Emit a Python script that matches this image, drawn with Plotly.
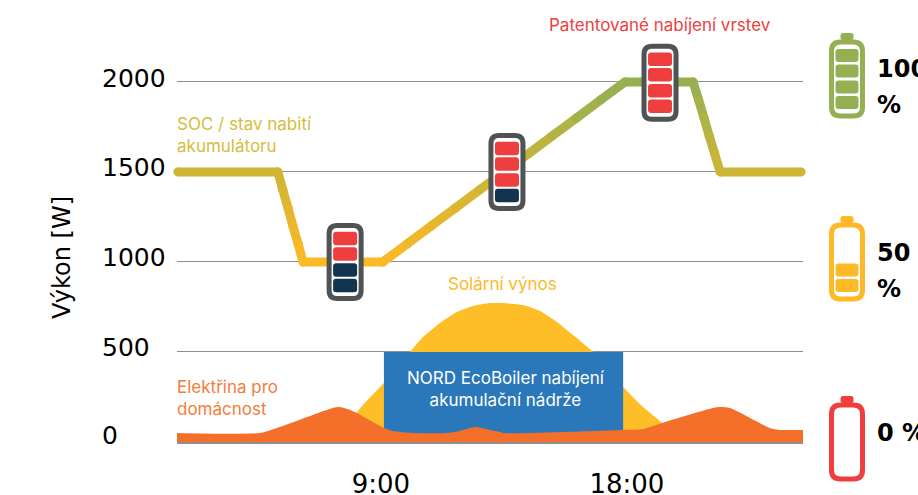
import plotly.graph_objects as go

# ---- data ----
soc_hour = [1.57, 5.23, 5.41, 5.60, 5.78, 5.97, 6.15, 9.07, 9.96, 10.84, 11.73, 12.61, 13.50, 14.39,
            15.27, 16.16, 17.04, 17.93, 20.42, 20.62, 20.82, 21.01, 21.21, 21.41, 24.37]
soc_watt = [1500, 1500, 1400, 1300, 1200, 1100, 1000, 1000, 1100, 1200, 1300, 1400, 1500, 1600,
            1700, 1800, 1900, 2000, 2000, 1900, 1800, 1700, 1600, 1500, 1500]
solar_hour = [8.05, 8.12, 9.11, 10.06, 10.54, 11.16, 11.78, 12.37, 12.99, 13.46, 14.20, 14.82, 15.44,
              16.03, 16.76, 17.86, 18.59, 19.28, 19.94]
solar_watt = [0, 161, 328, 500, 583, 661, 722, 756, 772, 772, 761, 728, 667, 594, 500, 306, 194, 106, 0]
home_hour = [1.54, 4.57, 5.20, 7.24, 7.50, 7.87, 8.12, 9.11, 9.44, 10.17, 11.42, 11.89, 12.44, 12.99,
             13.36, 13.47, 17.86, 18.59, 19.28, 21.15, 21.41, 21.77, 23.23, 23.60, 24.44]
home_watt = [50, 50, 78, 189, 194, 178, 161, 78, 61, 50, 50, 61, 83, 67, 56, 50, 67, 72, 106, 189, 194,
             189, 78, 67, 67]
boiler_hour = [9.11, 17.86]
boiler_watt = [500, 500]
y_ticks = [0, 500, 1000, 1500, 2000]
x_ticks = [9, 18]
x_labels = ["9:00", "18:00"]
# inline batteries: hour, watt, charged cells out of 4
inline_hour = [7.69, 13.61, 19.21]
inline_watt = [1000, 1500, 1995]
inline_full = [2, 3, 4]

# ---- styles ----
W, H = 918, 495
L, R, T, B = 177, 803, 0, 442
XR = [1.54, 24.44]
YR = [0, 2455]
INTER = "Inter, sans-serif"
DEJA = "DejaVu Sans, sans-serif"
RED, NAVY, DARK = "#EF3E3E", "#12344F", "#4F5353"
GREEN, AMBER = "#95B053", "#FDB927"
GRID = "#8F8F8F"
TICK_SHIFT = [7, 4, 4, 4, 3]


def mix(w):
    stops = [(1000, (253, 185, 39)), (1500, (205, 182, 54)), (2000, (149, 176, 83))]
    w = max(1000, min(2000, w))
    a, b = (stops[0], stops[1]) if w <= 1500 else (stops[1], stops[2])
    t = (w - a[0]) / (b[0] - a[0])
    return "rgb(%d,%d,%d)" % tuple(a[1][i] + t * (b[1][i] - a[1][i]) for i in range(3))


def rr(x0, y0, x1, y1, r):
    return (f"M{x0+r},{y0} L{x1-r},{y0} Q{x1},{y0} {x1},{y0+r} L{x1},{y1-r} Q{x1},{y1} {x1-r},{y1} "
            f"L{x0+r},{y1} Q{x0},{y1} {x0},{y1-r} L{x0},{y0+r} Q{x0},{y0} {x0+r},{y0} Z")


def anchored(path, ax, ay, xref, yref, fill, line=None, lw=0):
    return dict(type="path", path=path, xref=xref, yref=yref, xsizemode="pixel", ysizemode="pixel",
                xanchor=ax, yanchor=ay, fillcolor=fill, line=dict(color=line or fill, width=lw), layer="above")


def px(x):
    return (x - L) / (R - L)


def py(y):
    return 1 - (y - T) / (B - T)


fig = go.Figure()
fig.add_trace(go.Scatter(x=solar_hour, y=solar_watt, mode="lines", line=dict(width=0, shape="spline", smoothing=0.5),
                         fill="tozeroy", fillcolor="#FEBE28", hoverinfo="skip"))
fig.add_trace(go.Scatter(x=boiler_hour, y=boiler_watt, mode="lines", line=dict(width=0), fill="tozeroy",
                         fillcolor="#2A78BA", hoverinfo="skip"))
fig.add_trace(go.Scatter(x=home_hour, y=home_watt, mode="lines", line=dict(width=0, shape="spline", smoothing=0.6),
                         fill="tozeroy", fillcolor="#F4702A", hoverinfo="skip"))
for i in range(len(soc_hour) - 1):
    c = mix((soc_watt[i] + soc_watt[i + 1]) / 2)
    fig.add_trace(go.Scatter(x=soc_hour[i:i + 2], y=soc_watt[i:i + 2], mode="lines+markers",
                             line=dict(color=c, width=9), marker=dict(color=c, size=9),
                             cliponaxis=False, hoverinfo="skip"))

shapes = []
# inline batteries, anchored to the data
for hx, wy, full in zip(inline_hour, inline_watt, inline_full):
    shapes.append(anchored(rr(-16, -36.5, 16, 36.5, 8), hx, wy, "x", "y", "white", DARK, 5))
    for k, cy in enumerate([23.5, 8, -8, -23.5]):
        col = RED if k < full else NAVY
        shapes.append(anchored(rr(-12, cy - 6.7, 12, cy + 6.7, 3), hx, wy, "x", "y", col))


# side batteries
def side(top, col, cells):
    bx, by = px(847), py(top + 46)
    shapes.append(anchored(rr(-6.5, 39, 6.5, 46, 2.5), bx, by, "paper", "paper", col))
    shapes.append(anchored(rr(-15.5, -37, 15.5, 37, 9), bx, by, "paper", "paper", "white", col, 5))
    for cy in cells:
        shapes.append(anchored(rr(-11.5, cy - 6.5, 11.5, cy + 6.5, 3), bx, by, "paper", "paper", col))


side(33, GREEN, [-23.5, -8, 8, 23.5])
side(216, AMBER, [-23.5, -8])
side(396, RED, [])

anns = []


def note(x, y, text, color, anchor="left", size=17):
    anns.append(dict(x=x, y=y, xref="paper", yref="paper", text=text, showarrow=False, xanchor=anchor,
                     yanchor="middle", align=anchor, font=dict(family=INTER, size=size, color=color)))


note(px(660), py(25), "Patentované nabíjení vrstev", RED, "center")
note(px(175), py(135), "SOC / stav nabití<br>akumulátoru", "#D6BC3E")
note(px(502), py(284), "Solární výnos", AMBER, "center")
note(px(175), py(398), "Elektřina pro<br>domácnost", "#F47D3B")
note(px(506), py(389), "NORD EcoBoiler nabíjení<br>akumulační nádrže", "white", "center")
for x, y, t in [(875, 69, "100"), (875, 105, "%"), (875, 253, "50"), (875, 289, "%"), (875, 433, "0 %")]:
    anns.append(dict(x=px(x), y=py(y), xref="paper", yref="paper", text=t, showarrow=False, xanchor="left",
                     yanchor="middle", font=dict(family=DEJA, size=24, color="black", weight="bold")))
# left-aligned y tick labels, as in the reference
for v, s in zip(y_ticks, TICK_SHIFT):
    anns.append(dict(x=px(100), xref="paper", y=v, yref="y", yshift=s, text=str(v), showarrow=False, xanchor="left",
                     yanchor="middle", font=dict(family=DEJA, size=25, color="black")))
anns.append(dict(x=px(62), y=py(258), xref="paper", yref="paper", text="Výkon [W]", textangle=-90, showarrow=False,
                 xanchor="center", yanchor="middle", font=dict(family=DEJA, size=24, color="black")))

fig.update_layout(
    width=W, height=H, margin=dict(l=L, r=W - R, t=T, b=H - B, pad=0), showlegend=False,
    paper_bgcolor="white", plot_bgcolor="white", shapes=shapes, annotations=anns,
    xaxis=dict(range=XR, tickmode="array", tickvals=x_ticks, ticktext=x_labels, showgrid=False, zeroline=False,
               showline=True, linecolor=GRID, linewidth=2, ticks="", ticklabelstandoff=18, automargin=False,
               tickfont=dict(family=DEJA, size=26, color="black")),
    yaxis=dict(range=YR, tickmode="array", tickvals=y_ticks, showgrid=True, gridcolor=GRID, gridwidth=1, zeroline=False,
               showline=False, ticks="", showticklabels=False, automargin=False),
)
fig.write_html("out.html", post_script="document.body.style.margin='0';document.body.style.overflow='hidden';",
               config=dict(displayModeBar=False))
